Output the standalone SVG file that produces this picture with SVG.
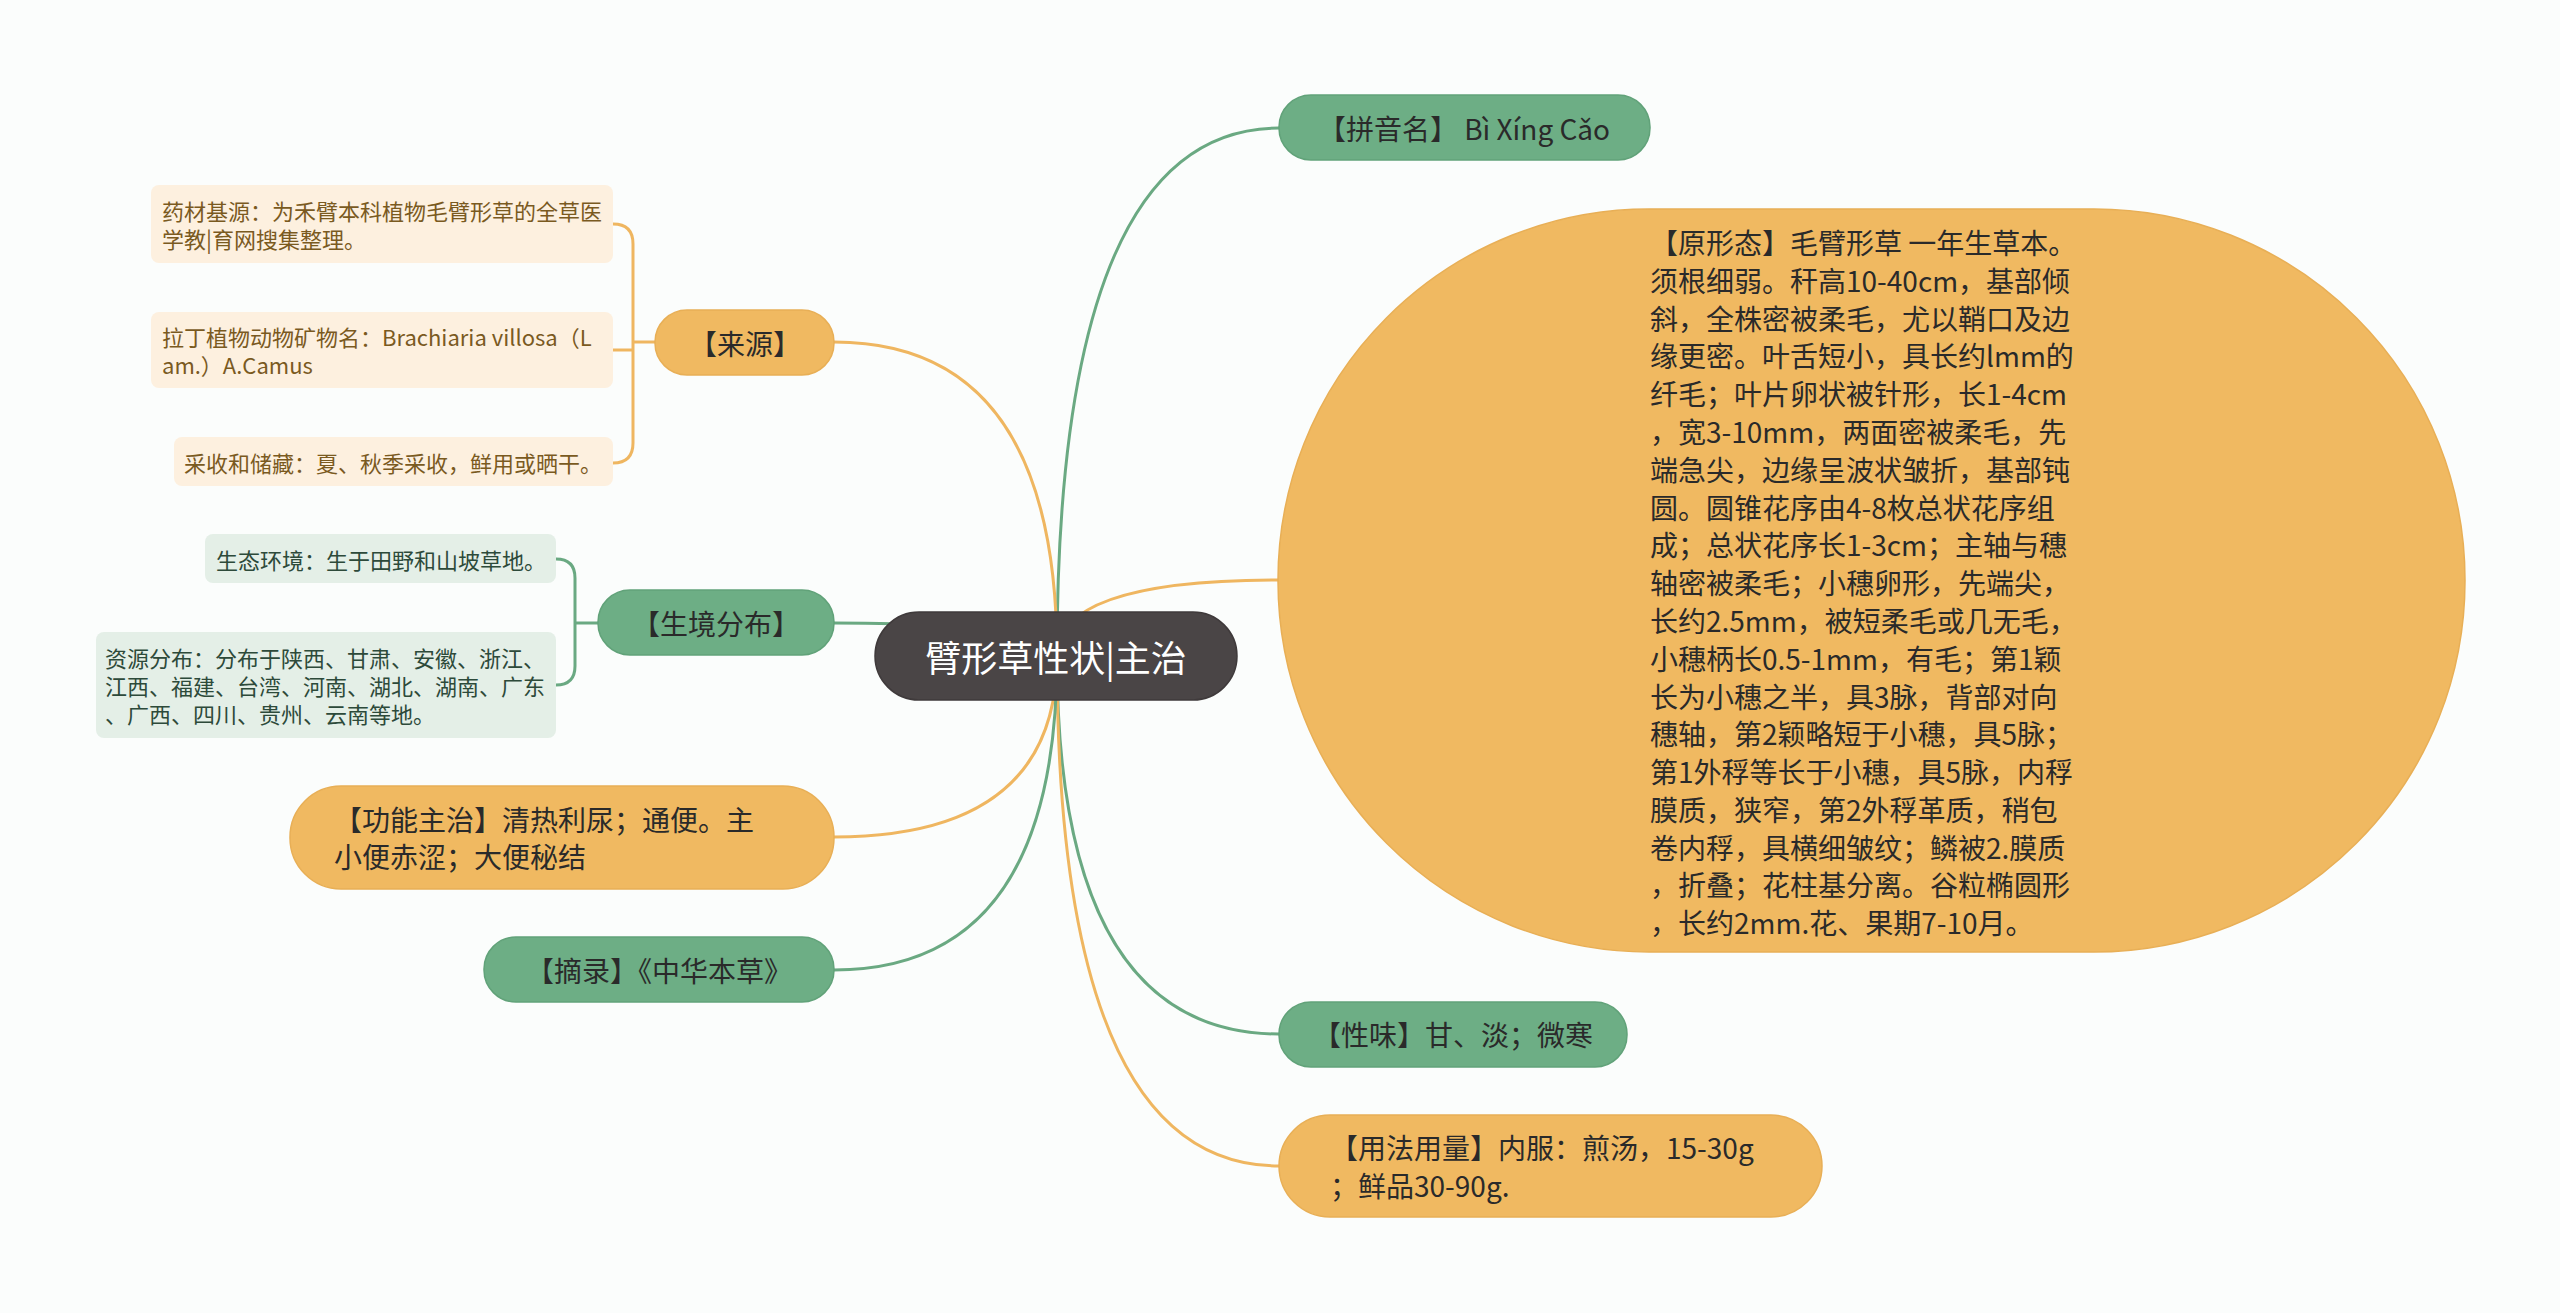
<svg xmlns="http://www.w3.org/2000/svg" width="2560" height="1313" viewBox="0 0 2560 1313">
<style>
text{font-family:"Noto Sans CJK SC","Noto Sans",sans-serif;dominant-baseline:central}
.lo{fill:none;stroke:#efb660;stroke-width:3}
.lg{fill:none;stroke:#6aa982;stroke-width:3}
.no{fill:#f0b961;stroke:#e8af56;stroke-width:1.5}
.ng{fill:#6dae85;stroke:#61a279;stroke-width:1.5}
.lfo{fill:#fdf0df}
.lfg{fill:#e4efe7}
.t28{font-size:28px;fill:#2a2a2a}
.t22o{font-size:22px;fill:#7a5a1f}
.t22g{font-size:22px;fill:#2d4a3a}
</style>
<rect width="2560" height="1313" fill="#fbfdfc"/>
<g id="connectors">
<path class="lg" d="M1057,656 Q1057,128 1279,128"/>
<path class="lo" d="M1057,656 Q1057,580 1278,580"/>
<path class="lg" d="M1057,656 Q1057,1034 1279,1034"/>
<path class="lo" d="M1057,656 Q1057,1166 1279,1166"/>
<path class="lo" d="M1057,656 Q1057,342 834,342"/>
<path class="lg" d="M1057,656 Q1057,623 834,623"/>
<path class="lo" d="M1057,656 Q1057,837 834,837"/>
<path class="lg" d="M1057,656 Q1057,970 834,970"/>
<path class="lo" d="M655,342 H633 M613,224 Q633,224 633,244 V443 Q633,463 613,463 M613,350 H633"/>
<path class="lg" d="M598,623 H575 M556,559 Q575,559 575,578 V666 Q575,685 556,685"/>
</g>
<g id="center">
<rect x="875" y="612" width="362" height="88" rx="44" fill="#4a4546" stroke="#3f3a3b" stroke-width="1.5"/>
<text x="1056" y="656" font-size="36" fill="#ffffff" text-anchor="middle">臂形草性状|主治</text>
</g>
<g id="pinyin">
<rect class="ng" x="1279" y="95" width="371" height="65" rx="32"/>
<text class="t28" x="1464" y="128" text-anchor="middle">【拼音名】 Bì Xíng Cǎo</text>
</g>
<g id="xingtai">
<rect class="no" x="1278" y="209" width="1187" height="743" rx="371"/>
<text class="t28" x="1650" y="242">【原形态】毛臂形草 一年生草本。</text>
<text class="t28" x="1650" y="280">须根细弱。秆高10-40cm，基部倾</text>
<text class="t28" x="1650" y="318">斜，全株密被柔毛，尤以鞘口及边</text>
<text class="t28" x="1650" y="355">缘更密。叶舌短小，具长约lmm的</text>
<text class="t28" x="1650" y="393">纤毛；叶片卵状被针形，长1-4cm</text>
<text class="t28" x="1650" y="431">，宽3-10mm，两面密被柔毛，先</text>
<text class="t28" x="1650" y="469">端急尖，边缘呈波状皱折，基部钝</text>
<text class="t28" x="1650" y="507">圆。圆锥花序由4-8枚总状花序组</text>
<text class="t28" x="1650" y="544">成；总状花序长1-3cm；主轴与穗</text>
<text class="t28" x="1650" y="582">轴密被柔毛；小穗卵形，先端尖，</text>
<text class="t28" x="1650" y="620">长约2.5mm，被短柔毛或几无毛，</text>
<text class="t28" x="1650" y="658">小穗柄长0.5-1mm，有毛；第1颖</text>
<text class="t28" x="1650" y="696">长为小穗之半，具3脉，背部对向</text>
<text class="t28" x="1650" y="733">穗轴，第2颖略短于小穗，具5脉；</text>
<text class="t28" x="1650" y="771">第1外稃等长于小穗，具5脉，内稃</text>
<text class="t28" x="1650" y="809">膜质，狭窄，第2外稃革质，稍包</text>
<text class="t28" x="1650" y="847">卷内稃，具横细皱纹；鳞被2.膜质</text>
<text class="t28" x="1650" y="884">，折叠；花柱基分离。谷粒椭圆形</text>
<text class="t28" x="1650" y="922">，长约2mm.花、果期7-10月。</text>
</g>
<g id="xingwei">
<rect class="ng" x="1279" y="1002" width="348" height="65" rx="32"/>
<text class="t28" x="1453" y="1034" text-anchor="middle">【性味】甘、淡；微寒</text>
</g>
<g id="yongfa">
<rect class="no" x="1279" y="1115" width="543" height="102" rx="51"/>
<text class="t28" x="1330" y="1147">【用法用量】内服：煎汤，15-30g</text>
<text class="t28" x="1330" y="1185">；鲜品30-90g.</text>
</g>
<g id="laiyuan">
<rect class="no" x="655" y="310" width="179" height="65" rx="32"/>
<text class="t28" x="745" y="343" text-anchor="middle">【来源】</text>
</g>
<g id="jiyuan">
<rect class="lfo" x="151" y="185" width="462" height="78" rx="8"/>
<text class="t22o" x="162" y="210">药材基源：为禾臂本科植物毛臂形草的全草医</text>
<text class="t22o" x="162" y="238">学教|育网搜集整理。</text>
</g>
<g id="lading">
<rect class="lfo" x="151" y="312" width="462" height="76" rx="8"/>
<text class="t22o" x="162" y="336">拉丁植物动物矿物名：Brachiaria villosa（L</text>
<text class="t22o" x="162" y="364">am.）A.Camus</text>
</g>
<g id="caishou">
<rect class="lfo" x="174" y="437" width="439" height="49" rx="8"/>
<text class="t22o" x="184" y="462">采收和储藏：夏、秋季采收，鲜用或晒干。</text>
</g>
<g id="shengjing">
<rect class="ng" x="598" y="590" width="236" height="65" rx="32"/>
<text class="t28" x="716" y="623" text-anchor="middle">【生境分布】</text>
</g>
<g id="shengtai">
<rect class="lfg" x="205" y="534" width="351" height="49" rx="8"/>
<text class="t22g" x="216" y="559">生态环境：生于田野和山坡草地。</text>
</g>
<g id="ziyuan">
<rect class="lfg" x="96" y="632" width="460" height="106" rx="8"/>
<text class="t22g" x="105" y="657">资源分布：分布于陕西、甘肃、安徽、浙江、</text>
<text class="t22g" x="105" y="685">江西、福建、台湾、河南、湖北、湖南、广东</text>
<text class="t22g" x="105" y="713">、广西、四川、贵州、云南等地。</text>
</g>
<g id="gongneng">
<rect class="no" x="290" y="786" width="544" height="103" rx="51"/>
<text class="t28" x="334" y="819">【功能主治】清热利尿；通便。主</text>
<text class="t28" x="334" y="856">小便赤涩；大便秘结</text>
</g>
<g id="zhailu">
<rect class="ng" x="484" y="937" width="350" height="65" rx="32"/>
<text class="t28" x="659" y="970" text-anchor="middle">【摘录】《中华本草》</text>
</g>
</svg>
